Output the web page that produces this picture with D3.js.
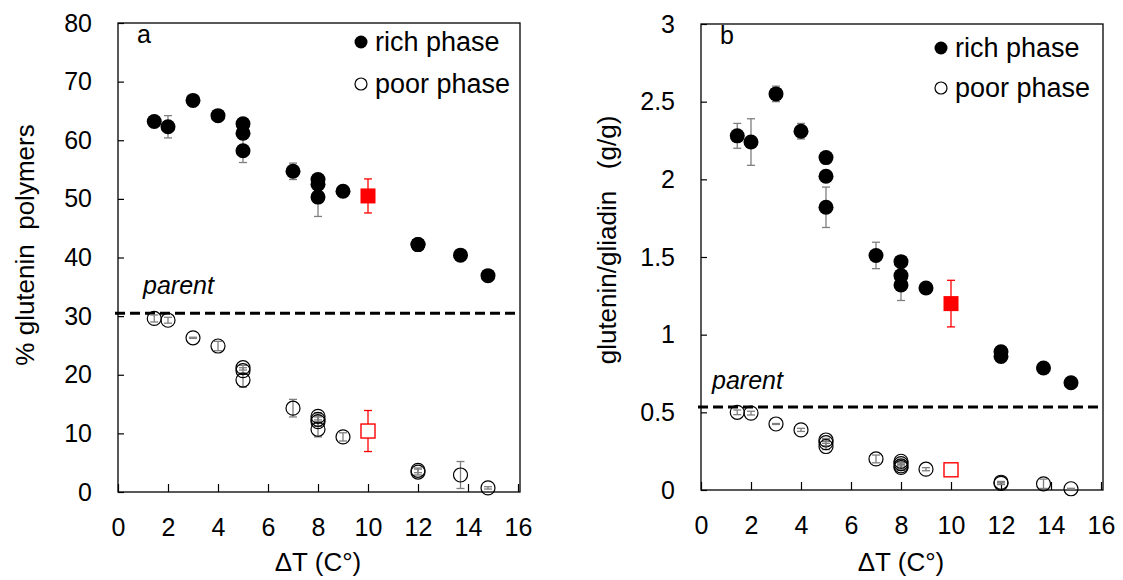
<!DOCTYPE html>
<html>
<head>
<meta charset="utf-8">
<script src="https://cdn.jsdelivr.net/npm/d3@7"></script>
<style>
  body { margin: 0; background: #fff; }
  svg { display: block; font-family: "Liberation Sans", Arial, sans-serif; }
</style>
</head>
<body>
<svg id="chart" width="1123" height="580"></svg>
<script>
// delta T for every sample (same samples in both panels)
var richX = [1.45, 2, 3, 4, 5, 5, 5, 7, 8, 8, 8, 9, 12, 12, 13.7, 14.8];
var poorX = [1.45, 2, 3, 4, 5, 5, 5, 7, 8, 8, 8, 8, 9, 12, 12, 13.7, 14.8];

// panel a : % glutenin polymers
var richA = [63.2, 62.3, 66.8, 64.2, 62.8, 61.2, 58.2, 54.7, 53.3, 52.5, 50.3, 51.3, 42.2, 42.2, 40.4, 36.9];
var richAErr = [0.8, 1.9, 0.6, 0.6, 0.5, 1.0, 2.0, 1.4, 0.8, 1.0, 3.3, 0.5, 0.6, 0.6, 0.5, 0.5];
var poorA = [29.6, 29.3, 26.3, 24.9, 21.2, 20.7, 19.1, 14.3, 12.9, 12.4, 12.0, 10.7, 9.4, 3.7, 3.4, 2.9, 0.7];
var poorAErr = [0.6, 0.5, 0.1, 0.8, 0.4, 0.5, 1.2, 1.5, 0.6, 0.6, 0.8, 1.3, 0.7, 0.4, 0.5, 2.3, 0.2];
var redA = { x: 10, rich: 50.5, richErr: 2.9, poor: 10.4, poorErr: 3.5 };
var parentA = 30.5;

// panel b : glutenin/gliadin ratio
var richB = [2.28, 2.24, 2.55, 2.31, 2.14, 2.02, 1.82, 1.51, 1.47, 1.38, 1.32, 1.30, 0.89, 0.86, 0.785, 0.69];
var richBErr = [0.08, 0.15, 0.05, 0.05, 0.02, 0.02, 0.13, 0.085, 0.03, 0.03, 0.1, 0.03, 0.02, 0.02, 0.02, 0.02];
var poorB = [0.50, 0.495, 0.425, 0.387, 0.322, 0.305, 0.28, 0.20, 0.185, 0.17, 0.155, 0.145, 0.134, 0.05, 0.043, 0.04, 0.008];
var poorBErr = [0.015, 0.012, 0.003, 0.01, 0.01, 0.02, 0.02, 0.025, 0.01, 0.015, 0.02, 0.02, 0.01, 0.005, 0.008, 0.03, 0.003];
var redB = { x: 10, rich: 1.2, richErr: 0.15, poor: 0.13, poorErr: 0.01 };
var parentB = 0.535;

var xTicks = [0, 2, 4, 6, 8, 10, 12, 14, 16];
var yTicksA = [0, 10, 20, 30, 40, 50, 60, 70, 80];
var yTicksB = [0, 0.5, 1, 1.5, 2, 2.5, 3];
var legendLabels = ["rich phase", "poor phase"];

var svg = d3.select("#chart");

var panels = [
  { letter: "a", left: 118, right: 520, top: 23, bottom: 492, yMax: 80, yTicks: yTicksA,
    yTitle: "% glutenin  polymers", titleX: 25, titleY: 245,
    rich: richA, richErr: richAErr, poor: poorA, poorErr: poorAErr, red: redA, parent: parentA,
    legendX: 361, legendY: [42, 84], parentLabel: [143, 294] },
  { letter: "b", left: 701, right: 1103, top: 24, bottom: 490, yMax: 3, yTicks: yTicksB,
    yTitle: "glutenin/gliadin   (g/g)", titleX: 607, titleY: 240,
    rich: richB, richErr: richBErr, poor: poorB, poorErr: poorBErr, red: redB, parent: parentB,
    legendX: 941, legendY: [48, 88], parentLabel: [712, 389] }
];

panels.forEach(function(p) {
  var g = svg.append("g");

  var x = d3.scaleLinear().domain([0, 16]).range([p.left, p.left + 400]);
  var y = d3.scaleLinear().domain([0, p.yMax]).range([p.bottom, p.top]);

  // frame
  g.append("rect")
    .attr("x", p.left).attr("y", p.top)
    .attr("width", p.right - p.left).attr("height", p.bottom - p.top)
    .attr("fill", "none").attr("stroke", "#000").attr("stroke-width", 1.3);

  // axes, ticks pointing inward
  var xa = g.append("g")
    .attr("transform", `translate(0,${p.bottom})`)
    .call(d3.axisBottom(x).tickValues(xTicks).tickSizeInner(-8).tickSizeOuter(0).tickPadding(26));
  var ya = g.append("g")
    .attr("transform", `translate(${p.left},0)`)
    .call(d3.axisLeft(y).tickValues(p.yTicks).tickFormat(String)
      .tickSizeInner(-6).tickSizeOuter(0).tickPadding(26));
  [xa, ya].forEach(function(a) {
    a.select(".domain").remove();
    a.selectAll("line").attr("stroke", "#000").attr("stroke-width", 1.2);
    a.selectAll("text").attr("font-size", 25).attr("fill", "#000")
      .attr("font-family", "Liberation Sans, Arial, sans-serif");
  });

  // axis titles
  g.append("text")
    .attr("x", (p.left + p.left + 400) / 2).attr("y", 571)
    .attr("text-anchor", "middle").attr("font-size", 26)
    .text("\u0394T (C\u00b0)");
  g.append("text")
    .attr("transform", `translate(${p.titleX},${p.titleY}) rotate(-90)`)
    .attr("text-anchor", "middle").attr("dy", "0.35em").attr("font-size", 26)
    .style("white-space", "pre")
    .text(p.yTitle);

  // panel letter
  g.append("text").attr("x", p.left + 19).attr("y", p.top + 20)
    .attr("font-size", 25).text(p.letter);

  // parent level
  g.append("line")
    .attr("x1", p.left - 3).attr("x2", p.right)
    .attr("y1", y(p.parent)).attr("y2", y(p.parent))
    .attr("stroke", "#000").attr("stroke-width", 3).attr("stroke-dasharray", "10,5");
  g.append("text")
    .attr("x", p.parentLabel[0]).attr("y", p.parentLabel[1])
    .attr("font-size", 25).attr("font-style", "italic").text("parent");

  function errBars(sel, xs, ys, es, color) {
    var d = ys.map(function(v, i) { return { x: xs[i], y: v, e: es[i] }; });
    var eg = sel.append("g").attr("stroke", color).attr("stroke-width", 1.3);
    eg.selectAll(".v").data(d).join("line")
      .attr("x1", function(d) { return x(d.x); }).attr("x2", function(d) { return x(d.x); })
      .attr("y1", function(d) { return y(d.y + d.e); }).attr("y2", function(d) { return y(d.y - d.e); });
    [1, -1].forEach(function(s) {
      eg.selectAll(".c" + s).data(d).join("line")
        .attr("x1", function(d) { return x(d.x) - 4; }).attr("x2", function(d) { return x(d.x) + 4; })
        .attr("y1", function(d) { return y(d.y + s * d.e); }).attr("y2", function(d) { return y(d.y + s * d.e); });
    });
    return d;
  }

  // poor phase: open circles, bars visible inside
  var poorData = errBars(g, poorX, p.poor, p.poorErr, "#7f7f7f");
  g.append("g").selectAll("circle").data(poorData).join("circle")
    .attr("cx", function(d) { return x(d.x); }).attr("cy", function(d) { return y(d.y); })
    .attr("r", 7).attr("fill", "none").attr("stroke", "#000").attr("stroke-width", 1.2);

  // rich phase: filled circles over their bars
  var richData = errBars(g, richX, p.rich, p.richErr, "#7f7f7f");
  g.append("g").selectAll("circle").data(richData).join("circle")
    .attr("cx", function(d) { return x(d.x); }).attr("cy", function(d) { return y(d.y); })
    .attr("r", 7.5).attr("fill", "#000");

  // red samples
  errBars(g, [p.red.x], [p.red.rich], [p.red.richErr], "#ff0000");
  g.append("rect")
    .attr("x", x(p.red.x) - 7.5).attr("y", y(p.red.rich) - 7.5)
    .attr("width", 15).attr("height", 15).attr("fill", "#ff0000");
  errBars(g, [p.red.x], [p.red.poor], [p.red.poorErr], "#ff0000");
  g.append("rect")
    .attr("x", x(p.red.x) - 7).attr("y", y(p.red.poor) - 7)
    .attr("width", 14).attr("height", 14).attr("fill", "#fff")
    .attr("stroke", "#ff0000").attr("stroke-width", 1.4);

  // legend
  var lg = g.append("g");
  lg.append("circle").attr("cx", p.legendX).attr("cy", p.legendY[0]).attr("r", 6.5).attr("fill", "#000");
  lg.append("circle").attr("cx", p.legendX).attr("cy", p.legendY[1]).attr("r", 6).attr("fill", "none")
    .attr("stroke", "#000").attr("stroke-width", 1.2);
  lg.selectAll("text").data(legendLabels).join("text")
    .attr("x", p.legendX + 14).attr("y", function(d, i) { return p.legendY[i]; })
    .attr("dy", "0.35em").attr("font-size", 27).text(function(d) { return d; });
});
</script>
</body>
</html>
